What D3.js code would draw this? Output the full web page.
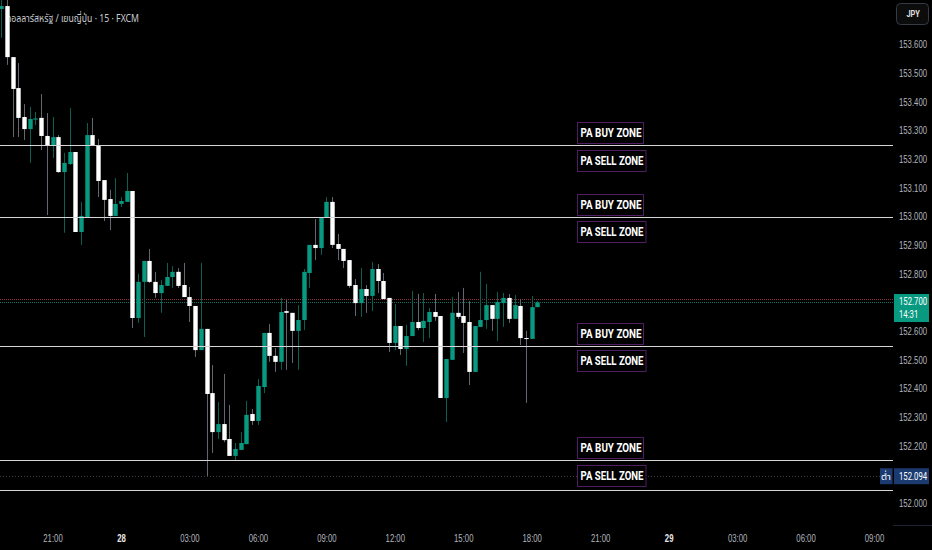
<!DOCTYPE html>
<html>
<head>
<meta charset="utf-8">
<script src="https://cdn.jsdelivr.net/npm/d3@7"></script>
<style>
  html, body { margin: 0; padding: 0; background: #000; }
  svg { display: block; font-family: Roboto, "Noto Sans", sans-serif; }
</style>
</head>
<body>
<svg id="mychart" width="932" height="550"></svg>
<script>
const width = 932
const height = 550
const plotRight = 893
const squeeze = 0.776   // price scale font is a narrow one

// 15 minute candles, first one at 27 Oct 18:45
const firstCandle = Date.UTC(2024, 9, 27, 18, 45)
const candleStep = 15 * 60 * 1000

const opens = [153.724, 153.734, 153.556, 153.448, 153.347, 153.305, 153.338, 153.344, 153.281, 153.249,
  153.277, 153.155, 153.183, 153.225, 152.946, 152.998, 153.284, 153.246, 153.127, 153.061,
  153.002, 153.044, 153.051, 153.089, 152.646, 152.772, 152.845, 152.772, 152.733, 152.758,
  152.789, 152.807, 152.761, 152.719, 152.688, 152.534, 152.608, 152.384, 152.248, 152.276,
  152.224, 152.165, 152.186, 152.206, 152.311, 152.287, 152.405, 152.594, 152.514, 152.493,
  152.670, 152.664, 152.601, 152.639, 152.803, 152.901, 152.890, 152.995, 153.051, 152.904,
  152.887, 152.848, 152.761, 152.698, 152.747, 152.723, 152.817, 152.775, 152.716, 152.559,
  152.618, 152.538, 152.583, 152.632, 152.611, 152.632, 152.667, 152.653, 152.367, 152.500,
  152.664, 152.653, 152.632, 152.458, 152.615, 152.639, 152.691, 152.643, 152.698, 152.716,
  152.643, 152.688, 152.576, 152.573, 152.684]
const highs = [153.770, 153.760, 153.556, 153.535, 153.392, 153.382, 153.365, 153.427, 153.361, 153.347,
  153.284, 153.222, 153.378, 153.225, 153.051, 153.326, 153.344, 153.270, 153.127, 153.093,
  153.134, 153.068, 153.152, 153.089, 152.800, 152.845, 152.887, 152.807, 152.779, 152.838,
  152.827, 152.820, 152.838, 152.754, 152.688, 152.838, 152.608, 152.482, 152.353, 152.451,
  152.343, 152.210, 152.248, 152.357, 152.329, 152.433, 152.594, 152.625, 152.541, 152.716,
  152.709, 152.664, 152.691, 152.817, 152.901, 152.991, 152.995, 153.068, 153.068, 152.939,
  152.887, 152.848, 152.782, 152.820, 152.761, 152.841, 152.834, 152.803, 152.716, 152.695,
  152.618, 152.622, 152.740, 152.730, 152.733, 152.681, 152.730, 152.653, 152.503, 152.719,
  152.737, 152.751, 152.705, 152.618, 152.807, 152.765, 152.691, 152.737, 152.733, 152.730,
  152.726, 152.712, 152.601, 152.723, 152.705]
const lows = [153.623, 153.529, 153.277, 153.277, 153.267, 153.187, 153.319, 153.232, 153.005, 153.204,
  153.152, 152.943, 153.180, 152.946, 152.901, 152.998, 153.246, 153.068, 152.984, 152.953,
  153.002, 153.033, 153.051, 152.611, 152.629, 152.580, 152.768, 152.716, 152.664, 152.758,
  152.751, 152.751, 152.719, 152.632, 152.510, 152.534, 152.094, 152.175, 152.224, 152.213,
  152.165, 152.147, 152.186, 152.206, 152.273, 152.273, 152.384, 152.493, 152.458, 152.465,
  152.465, 152.489, 152.465, 152.604, 152.751, 152.848, 152.866, 152.995, 152.890, 152.848,
  152.820, 152.751, 152.653, 152.650, 152.664, 152.670, 152.733, 152.712, 152.527, 152.534,
  152.517, 152.479, 152.583, 152.604, 152.562, 152.576, 152.636, 152.367, 152.283, 152.500,
  152.643, 152.524, 152.412, 152.458, 152.615, 152.608, 152.601, 152.566, 152.615, 152.629,
  152.643, 152.552, 152.350, 152.573, 152.684]
const closes = [153.734, 153.556, 153.445, 153.344, 153.305, 153.340, 153.342, 153.281, 153.249, 153.277,
  153.155, 153.187, 153.225, 152.946, 153.002, 153.284, 153.246, 153.124, 153.058, 153.002,
  153.044, 153.054, 153.089, 152.646, 152.772, 152.845, 152.772, 152.733, 152.761, 152.789,
  152.807, 152.758, 152.719, 152.688, 152.534, 152.608, 152.381, 152.248, 152.276, 152.220,
  152.165, 152.189, 152.210, 152.308, 152.287, 152.409, 152.594, 152.514, 152.493, 152.667,
  152.664, 152.601, 152.639, 152.807, 152.901, 152.890, 152.995, 153.051, 152.901, 152.887,
  152.845, 152.758, 152.698, 152.747, 152.723, 152.817, 152.775, 152.712, 152.559, 152.618,
  152.538, 152.583, 152.632, 152.611, 152.636, 152.667, 152.650, 152.367, 152.503, 152.664,
  152.650, 152.629, 152.458, 152.618, 152.639, 152.691, 152.643, 152.702, 152.716, 152.643,
  152.691, 152.576, 152.573, 152.684, 152.700]

// horizontal drawings
const zoneLines = [153.25, 153.0, 152.55, 152.15, 152.045]
const zonePrices = [153.25, 153.0, 152.55, 152.15]
const buyText = "PA BUY ZONE"
const sellText = "PA SELL ZONE"
const labelTime = Date.UTC(2024, 9, 28, 20, 0)

const lastPrice = 152.700
const askPrice = 152.712
const sessionLow = 152.094
const countdown = "14:31"

const priceTicks = d3.range(0, 17).map(i => +(152 + i * 0.1).toFixed(1))
const timeTicks = d3.range(-3, 34, 3).map(h => Date.UTC(2024, 9, 28, h))
const timeLabels = ["21:00", "28", "03:00", "06:00", "09:00", "12:00", "15:00", "18:00",
  "21:00", "29", "03:00", "06:00", "09:00"]

const title = "ดอลลาร์สหรัฐ / เยนญี่ปุ่น · 15 · FXCM"

const candles = opens.map((o, i) => ({
  t: firstCandle + i * candleStep, o, h: highs[i], l: lows[i], c: closes[i]
}))

const x = d3.scaleUtc()
    .domain([Date.UTC(2024, 9, 27, 21), Date.UTC(2024, 9, 29, 9)])
    .range([52.5, 874])

const y = d3.scaleLinear()
    .domain([152.0, 153.6])
    .range([503.2, 44.5])

const yAxis = g => g
    .attr("transform", `translate(${plotRight},0)`)
    .call(d3.axisRight(y).tickValues(priceTicks).tickFormat(d3.format(".3f")).tickSize(0).tickPadding(0))
    .call(g => g.select(".domain").remove())
    .call(g => g.selectAll("text")
        .attr("x", 0)
        .attr("fill", "#b2b5be")
        .attr("font-size", 10)
        .attr("transform", `translate(6,0) scale(${squeeze},1)`))

const xAxis = g => g
    .attr("transform", `translate(0,538)`)
    .call(d3.axisBottom(x).tickValues(timeTicks).tickFormat((d, i) => timeLabels[i]).tickSize(0))
    .call(g => g.select(".domain").remove())
    .call(g => g.selectAll("text")
        .attr("y", 0)
        .attr("dy", "0.35em")
        .attr("font-size", 10)
        .attr("fill", (d, i) => timeLabels[i].length < 3 ? "#e8e8e8" : "#b2b5be")
        .attr("font-weight", (d, i) => timeLabels[i].length < 3 ? "bold" : "normal")
        .attr("transform", `scale(${squeeze},1)`))

function narrowText(sel, px, py, str, size) {
    return sel.append("text")
        .attr("transform", `translate(${px},${py}) scale(${squeeze},1)`)
        .attr("dy", "0.35em")
        .attr("font-size", size)
        .attr("fill", "#ffffff")
        .text(str)
}

function chart() {
    const svg = d3.select('#mychart').attr('viewBox', [0, 0, width, height])

    svg.append("rect").attr("width", width).attr("height", height).attr("fill", "#000")

    // title
    svg.append("text")
        .attr("x", 6).attr("y", 18).attr("dy", "0.35em")
        .attr("font-family", "'Noto Sans Thai', 'Noto Sans', sans-serif")
        .attr("font-size", 11)
        .attr("fill", "#c9cbd1")
        .attr("textLength", 133)
        .attr("lengthAdjust", "spacingAndGlyphs")
        .text(title)

    // last price / ask / low dotted lines
    svg.append("line")
        .attr("x1", 0).attr("x2", plotRight)
        .attr("y1", Math.round(y(askPrice)) + 0.5).attr("y2", Math.round(y(askPrice)) + 0.5)
        .attr("stroke", "#8a2f45").attr("stroke-dasharray", "1,1")
    svg.append("line")
        .attr("x1", 0).attr("x2", plotRight)
        .attr("y1", Math.round(y(lastPrice)) - 0.5).attr("y2", Math.round(y(lastPrice)) - 0.5)
        .attr("stroke", "#0b6e60").attr("stroke-dasharray", "1,1")
    svg.append("line")
        .attr("x1", 0).attr("x2", 880)
        .attr("y1", Math.round(y(sessionLow)) + 0.5).attr("y2", Math.round(y(sessionLow)) + 0.5)
        .attr("stroke", "#3a3d44").attr("stroke-dasharray", "1,2")

    // candles
    const bw = 4.4
    const g = svg.append("g")
        .selectAll("g")
        .data(candles)
        .join("g")

    g.append("line")
        .attr("x1", d => Math.round(x(d.t)) + 0.5)
        .attr("x2", d => Math.round(x(d.t)) + 0.5)
        .attr("y1", d => y(d.h))
        .attr("y2", d => y(d.l))
        .attr("stroke", d => d.c >= d.o ? "#0d5e52" : "#64676f")
        .attr("stroke-width", 1)

    g.append("rect")
        .attr("x", d => Math.round(x(d.t)) + 0.5 - bw / 2)
        .attr("y", d => y(Math.max(d.o, d.c)))
        .attr("width", bw)
        .attr("height", d => Math.max(1, Math.abs(y(d.o) - y(d.c))))
        .attr("fill", d => d.c >= d.o ? "#089981" : "#ffffff")

    // zone lines
    svg.append("g")
        .selectAll("line")
        .data(zoneLines)
        .join("line")
        .attr("x1", 0).attr("x2", plotRight)
        .attr("y1", d => Math.round(y(d)) + 0.5)
        .attr("y2", d => Math.round(y(d)) + 0.5)
        .attr("stroke", "#d6d6d6")
        .attr("stroke-width", 1)

    // zone labels
    const lx = Math.round(x(labelTime)) + 0.5
    const labels = []
    zonePrices.forEach(p => {
        labels.push({ text: buyText, cy: y(p) - 12.3, w: 66, tw: 61 })
        labels.push({ text: sellText, cy: y(p) + 15.2, w: 68.5, tw: 63 })
    })
    const lg = svg.append("g").selectAll("g").data(labels).join("g")
    lg.append("rect")
        .attr("x", lx)
        .attr("y", d => Math.round(d.cy - 10.5) + 0.5)
        .attr("width", d => d.w)
        .attr("height", 21)
        .attr("fill", "#000")
        .attr("stroke", "#4e1d62")
        .attr("stroke-width", 1)
    lg.append("text")
        .attr("x", lx + 3)
        .attr("y", d => d.cy)
        .attr("dy", "0.36em")
        .attr("fill", "#ffffff")
        .attr("font-size", 12.5)
        .attr("font-weight", "bold")
        .attr("textLength", d => d.tw)
        .attr("lengthAdjust", "spacingAndGlyphs")
        .text(d => d.text)

    // axes
    svg.append("g").call(yAxis)
    svg.append("g").call(xAxis)

    svg.append("line")
        .attr("x1", plotRight).attr("x2", width)
        .attr("y1", 525.5).attr("y2", 525.5)
        .attr("stroke", "#1c2233")

    // currency box
    svg.append("rect")
        .attr("x", 896.5).attr("y", 3.5).attr("width", 32).attr("height", 21).attr("rx", 4)
        .attr("fill", "#0c0c0c").attr("stroke", "#363a45")
    narrowText(svg, 906.5, 14, "JPY", 9.5).attr("font-weight", "bold").attr("fill", "#e0e0e0")

    // last price label
    const ly = y(lastPrice)
    svg.append("rect")
        .attr("x", 894).attr("y", ly - 8.5).attr("width", 35).attr("height", 28)
        .attr("fill", "#089981")
    narrowText(svg, 899, ly - 1.5, d3.format(".3f")(lastPrice), 10)
    narrowText(svg, 899, ly + 11.5, countdown, 10)

    // session low label
    const lowY = y(sessionLow)
    svg.append("rect")
        .attr("x", 880).attr("y", lowY - 8).attr("width", 12.5).attr("height", 16)
        .attr("fill", "#1b3a70")
    svg.append("text")
        .attr("x", 886).attr("y", lowY).attr("dy", "0.35em")
        .attr("text-anchor", "middle")
        .attr("font-family", "'Noto Sans Thai', 'Noto Sans', sans-serif")
        .attr("font-size", 9.5).attr("fill", "#ffffff")
        .text("ต่ำ")
    svg.append("rect")
        .attr("x", 894).attr("y", lowY - 8).attr("width", 35).attr("height", 16)
        .attr("fill", "#1b3a70")
    narrowText(svg, 899, lowY, d3.format(".3f")(sessionLow), 10)

    return svg.node()
}

chart()
</script>
</body>
</html>
